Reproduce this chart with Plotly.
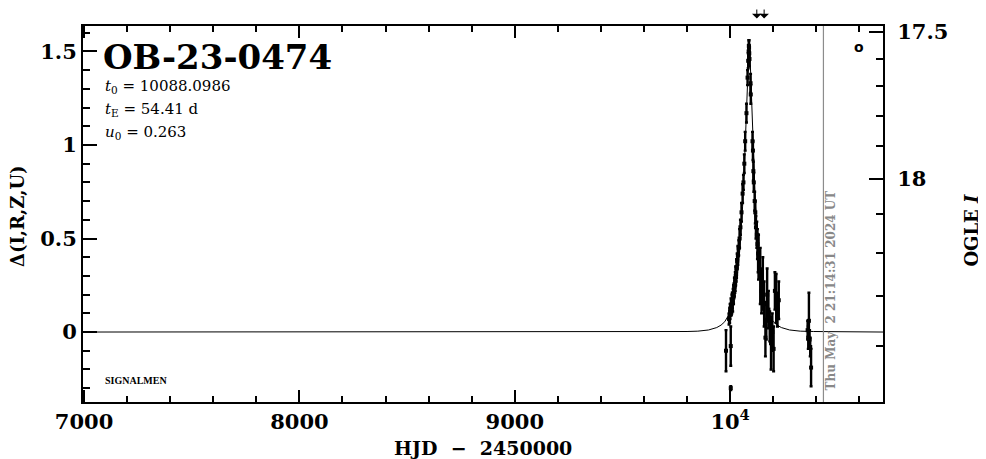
import math
import plotly.graph_objects as go

# ---------------- data ----------------
model_t = [6995, 9600, 9700, 9800, 9850, 9900, 9938, 9958, 9975, 9988, 9998, 10008,
           10018, 10028, 10038, 10048, 10058, 10068, 10073, 10078, 10083, 10088,
           10093, 10098, 10103, 10108, 10118, 10128, 10138, 10148, 10158, 10168,
           10188, 10201, 10218, 10238, 10276, 10326, 10388, 10488, 10710]
model_delta = [0.0, 0.0003, 0.0008, 0.0028, 0.0047, 0.011, 0.024, 0.037, 0.055, 0.079,
               0.10, 0.137, 0.18, 0.251, 0.346, 0.481, 0.672, 0.941, 1.104, 1.30,
               1.46, 1.54, 1.46, 1.30, 1.104, 0.941, 0.672, 0.481, 0.346, 0.251,
               0.18, 0.137, 0.079, 0.055, 0.037, 0.024, 0.011, 0.0047, 0.0028,
               0.0008, 0.0]

obs_t = [9981, 10003, 10003,
         9995, 9998, 10000, 10002, 10004, 10006, 10008, 10010, 10012, 10014, 10016,
         10018, 10020, 10022, 10024, 10026, 10028, 10030, 10033, 10036, 10040, 10044,
         10048, 10053, 10058, 10062, 10066, 10070, 10076, 10081, 10084, 10086, 10087,
         10088, 10089, 10090,
         10095, 10096, 10104, 10106, 10108, 10110, 10114, 10117, 10120, 10124, 10127,
         10130,
         10132, 10140, 10146, 10152, 10158, 10164, 10168, 10172, 10178, 10184, 10190,
         10196, 10202, 10208, 10214, 10220, 10226,
         10360, 10363, 10366, 10369, 10372, 10376]
obs_delta = [-0.10, -0.075, -0.30,
             0.07, 0.09, 0.11, 0.12, 0.14, 0.13, 0.15, 0.17, 0.16, 0.19, 0.20,
             0.22, 0.24, 0.25, 0.27, 0.30, 0.31, 0.34, 0.38, 0.41, 0.45, 0.50,
             0.56, 0.64, 0.74, 0.80, 0.90, 1.02, 1.17, 1.36, 1.45, 1.50, 1.53,
             1.52, 1.49, 1.46,
             1.33, 1.27, 1.02, 0.97, 0.86, 0.80, 0.70, 0.64, 0.56, 0.52, 0.47,
             0.42,
             0.40, 0.30, 0.22, 0.26, 0.15, -0.03, 0.06, 0.20, 0.12, 0.03, -0.06,
             0.00, -0.09, 0.22, 0.18, 0.12, 0.17,
             0.01, -0.03, 0.06, -0.04, -0.08, -0.19]
obs_err = [0.11, 0.105, 0.01,
           0.03, 0.04, 0.04, 0.03, 0.04, 0.04, 0.05, 0.04, 0.05, 0.04, 0.05,
           0.04, 0.05, 0.04, 0.05, 0.05, 0.04, 0.05, 0.04, 0.05, 0.04, 0.05,
           0.04, 0.05, 0.05, 0.04, 0.05, 0.05, 0.05, 0.04, 0.04, 0.03, 0.03,
           0.04, 0.04, 0.04,
           0.05, 0.05, 0.05, 0.05, 0.05, 0.05, 0.05, 0.06, 0.06, 0.07, 0.08,
           0.10,
           0.12, 0.15, 0.12, 0.14, 0.12, 0.10, 0.10, 0.14, 0.10, 0.08, 0.14,
           0.10, 0.12, 0.10, 0.13, 0.09, 0.10,
           0.05, 0.06, 0.15, 0.05, 0.05, 0.10]

arrow_t = [10124, 10158]
now_hjd = 10433.38
now_label = "Thu May  2 21:14:31 2024 UT"

event_name = "OB-23-0474"
t0_text = "10088.0986"
tE_text = "54.41"
u0_text = "0.263"

x_tick_vals = [7000, 8000, 9000, 10000]
x_tick_text = ["7000", "8000", "9000", "10<sup>4</sup>"]
y_tick_vals = [0, 0.5, 1, 1.5]
y_tick_text = ["0", "0.5", "1", "1.5"]

ogle_major = [17.5, 18.0]
ogle_major_text = ["17.5", "18"]
ogle_minor = [17.6, 17.7, 17.8, 17.9, 18.1, 18.2, 18.3, 18.4]
ogle_base = 18.374
blend_fs = 0.366

x_range = [6995, 10710]
y_range = [-0.374, 1.636]


def mag_to_delta(mag):
    flux = 10 ** (-0.4 * (mag - ogle_base))
    return 2.5 * math.log10(1 + (flux - 1) / blend_fs)


TICKFONT = dict(family="DejaVu Serif", size=21, color="black", weight="bold")
TITLEFONT = dict(family="DejaVu Serif", size=18, color="black", weight="bold")

fig = go.Figure()
fig.add_trace(go.Scatter(x=model_t, y=model_delta, mode="lines",
                         line=dict(color="black", width=1), hoverinfo="skip",
                         showlegend=False))
fig.add_trace(go.Scatter(x=obs_t, y=obs_delta, mode="markers",
                         marker=dict(symbol="square", size=4, color="black"),
                         error_y=dict(type="data", array=obs_err, color="black",
                                      thickness=2.4, width=1.5),
                         showlegend=False))
# trace that holds the OGLE I axis
fig.add_trace(go.Scatter(x=[x_range[0]], y=[y_range[0]], yaxis="y2", mode="markers",
                         marker=dict(size=0.1, opacity=0), hoverinfo="skip",
                         showlegend=False))

# the page body adds an 8 px offset, so the figure is 8 px smaller each way
fig.update_layout(
    width=978, height=451,
    margin=dict(l=75, r=103, t=18, b=57, autoexpand=False),
    paper_bgcolor="white", plot_bgcolor="white",
    showlegend=False,
    xaxis=dict(range=x_range, tickmode="array", tickvals=x_tick_vals,
               ticktext=x_tick_text, ticks="inside", ticklen=12, tickwidth=2,
               tickcolor="black", showline=True, linewidth=2, linecolor="black",
               mirror="ticks", showgrid=False, zeroline=False, tickfont=TICKFONT,
               ticklabelstandoff=0, automargin=False,
               minor=dict(dtick=200, tick0=7000, ticks="inside", ticklen=6,
                          tickwidth=2, tickcolor="black", showgrid=False)),
    yaxis=dict(range=y_range, tickmode="array", tickvals=y_tick_vals,
               ticktext=y_tick_text, ticks="inside", ticklen=14, tickwidth=2,
               tickcolor="black", showline=True, linewidth=2, linecolor="black",
               mirror=False, showgrid=False, zeroline=False, tickfont=TICKFONT,
               ticklabelstandoff=0, automargin=False,
               minor=dict(dtick=0.1, tick0=0, ticks="inside", ticklen=7,
                          tickwidth=2, tickcolor="black", showgrid=False)),
    yaxis2=dict(range=y_range, overlaying="y", side="right", anchor="x",
                tickmode="array", tickvals=[mag_to_delta(m) for m in ogle_major],
                ticktext=ogle_major_text, ticks="inside", ticklen=14, tickwidth=2,
                tickcolor="black", showline=True, linewidth=2, linecolor="black",
                showgrid=False, zeroline=False, tickfont=TICKFONT,
                ticklabelstandoff=8, automargin=False,
                minor=dict(tickmode="array",
                           tickvals=[mag_to_delta(m) for m in ogle_minor],
                           ticks="inside", ticklen=7, tickwidth=2,
                           tickcolor="black", showgrid=False)),
)

fig.add_shape(type="line", xref="x", yref="paper", x0=now_hjd, x1=now_hjd,
              y0=0, y1=1, line=dict(color="#8c8c8c", width=1.2))

ann = []
ann.append(dict(text=event_name, xref="paper", yref="paper", x=0.022, y=0.918,
                xanchor="left", yanchor="middle", showarrow=False,
                font=dict(family="DejaVu Serif", size=34, color="black", weight="bold")))
small = dict(family="DejaVu Serif", size=15, color="black")
ann.append(dict(text="<i>t</i><sub>0</sub> = " + t0_text, xref="paper", yref="paper",
                x=0.025, y=0.838, xanchor="left", yanchor="middle", showarrow=False,
                font=small))
ann.append(dict(text="<i>t</i><sub>E</sub> = " + tE_text + " d", xref="paper",
                yref="paper", x=0.025, y=0.777, xanchor="left", yanchor="middle",
                showarrow=False, font=small))
ann.append(dict(text="<i>u</i><sub>0</sub> = " + u0_text, xref="paper", yref="paper",
                x=0.025, y=0.718, xanchor="left", yanchor="middle", showarrow=False,
                font=small))
ann.append(dict(text="SIGNALMEN", xref="paper", yref="paper", x=0.025, y=0.058,
                xanchor="left", yanchor="middle", showarrow=False,
                font=dict(family="Liberation Serif", size=10, color="black",
                          weight="bold")))
ann.append(dict(text=now_label, xref="x", yref="paper", x=now_hjd, xshift=8,
                y=0.298, xanchor="center", yanchor="middle", textangle=-90,
                showarrow=False,
                font=dict(family="DejaVu Serif", size=12, color="#888888",
                          weight="bold")))
ann.append(dict(text="o", xref="paper", yref="paper", x=0.97, y=0.944,
                xanchor="center", yanchor="middle", showarrow=False,
                font=dict(family="DejaVu Sans", size=14, color="black",
                          weight="bold")))
ann.append(dict(text="Δ(I,R,Z,U)", xref="paper", yref="paper", x=-0.081, y=0.495,
                xanchor="center", yanchor="middle", textangle=-90, showarrow=False,
                font=TITLEFONT))
ann.append(dict(text="OGLE <i>I</i>", xref="paper", yref="paper", x=1.111, y=0.458,
                xanchor="center", yanchor="middle", textangle=-90, showarrow=False,
                font=TITLEFONT))
ann.append(dict(text="HJD  −  2450000", xref="paper", yref="paper", x=0.5,
                y=-0.122, xanchor="center", yanchor="middle", showarrow=False,
                font=dict(family="DejaVu Serif", size=19, color="black",
                          weight="bold")))
for t in arrow_t:
    ann.append(dict(text="", x=t, xref="x", y=1.02, yref="paper", ax=0, ay=-11,
                    showarrow=True, arrowhead=1, arrowsize=1.6, arrowwidth=1,
                    arrowcolor="black"))
fig.update_layout(annotations=ann)

fig.write_html("out.html")
